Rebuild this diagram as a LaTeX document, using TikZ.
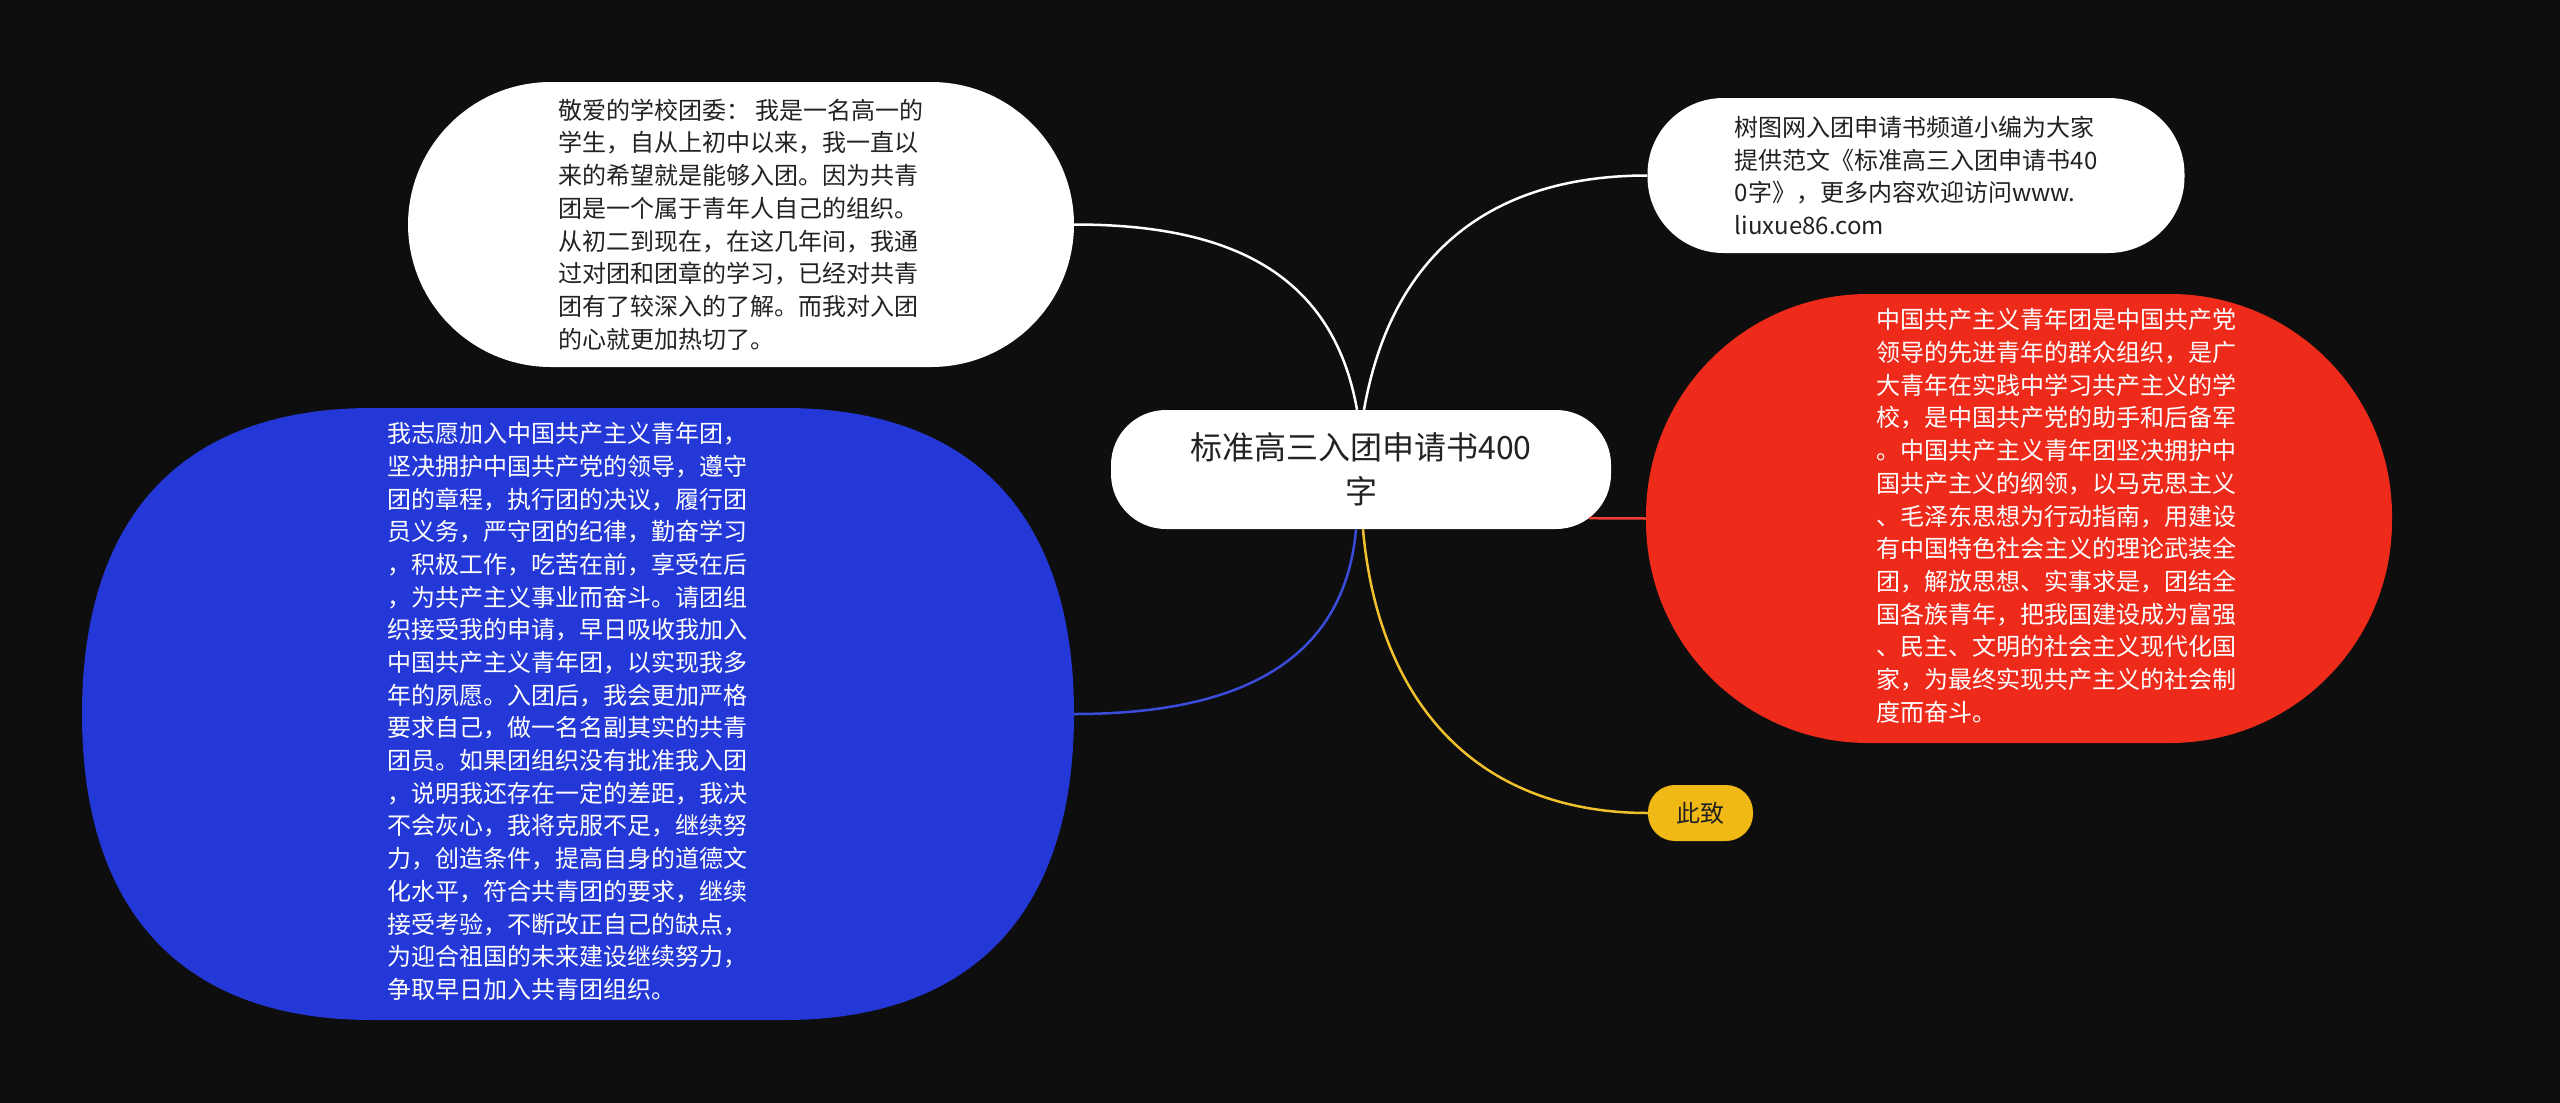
\documentclass[tikz,border=0pt]{standalone}
\usepackage{fontspec}
\setmainfont{Noto Sans CJK SC}
\definecolor{bgdark}{HTML}{0E0E0E}
\definecolor{oathblue}{HTML}{2338D6}
\definecolor{leaguered}{HTML}{EE2A1B}
\definecolor{closeyellow}{HTML}{F0B916}
\definecolor{inkdark}{HTML}{222222}

\begin{document}
\begin{tikzpicture}[x=1pt, y=-1pt,
        b/.style={rectangle, fill=white, text=inkdark, inner sep=0pt,
                  font=\fontsize{24}{32.7}\selectfont},
        conn/.style={line width=2.5pt}]
      \fill[bgdark] (0,0) rectangle (2560,1103);
      \useasboundingbox (0,0) rectangle (2560,1103);
      \fill[oathblue] (372,408) -- (784,408) .. controls (972.5,408) and (1074,515.1) .. (1074,714)
            .. controls (1074,912.9) and (972.5,1020) .. (784,1020) -- (372,1020)
            .. controls (183.5,1020) and (82,912.9) .. (82,714)
            .. controls (82,515.1) and (183.5,408) .. (372,408) -- cycle;
      \node[b, align=center, minimum width=500pt, minimum height=119pt, rounded corners=55pt,
            font=\fontsize{32}{44}\selectfont] (root) at (1361,469.5) {标准高三入团申请书400\\字};
      \node[b, align=left, minimum width=666pt, minimum height=285pt, rounded corners=143pt]
            (intro) at (741,224.5) {敬爱的学校团委： 我是一名高一的\\学生，自从上初中以来，我一直以\\来的希望就是能够入团。因为共青\\团是一个属于青年人自己的组织。\\从初二到现在，在这几年间，我通\\过对团和团章的学习，已经对共青\\团有了较深入的了解。而我对入团\\的心就更加热切了。};
      \node[b, align=left, minimum width=537pt, minimum height=155pt, rounded corners=76pt]
            (source) at (1916,175.5) {树图网入团申请书频道小编为大家\\提供范文《标准高三入团申请书40\\0字》，更多内容欢迎访问www.\\liuxue86.com};
      \node[b, fill=leaguered, text=white, minimum width=746pt, minimum height=449pt, rounded corners=222pt]
            (league) at (2019,518.5) {\begin{tabular}{@{\hspace{74pt}}l@{}}中国共产主义青年团是中国共产党\\领导的先进青年的群众组织，是广\\大青年在实践中学习共产主义的学\\校，是中国共产党的助手和后备军\\。中国共产主义青年团坚决拥护中\\国共产主义的纲领，以马克思主义\\、毛泽东思想为行动指南，用建设\\有中国特色社会主义的理论武装全\\团，解放思想、实事求是，团结全\\国各族青年，把我国建设成为富强\\、民主、文明的社会主义现代化国\\家，为最终实现共产主义的社会制\\度而奋斗。\end{tabular}};
      \node[b, fill=none, text=white, minimum width=992pt, minimum height=612pt]
            (oath) at (578,714) {\begin{tabular}{@{}l@{\hspace{22pt}}}我志愿加入中国共产主义青年团，\\坚决拥护中国共产党的领导，遵守\\团的章程，执行团的决议，履行团\\员义务，严守团的纪律，勤奋学习\\，积极工作，吃苦在前，享受在后\\，为共产主义事业而奋斗。请团组\\织接受我的申请，早日吸收我加入\\中国共产主义青年团，以实现我多\\年的夙愿。入团后，我会更加严格\\要求自己，做一名名副其实的共青\\团员。如果团组织没有批准我入团\\，说明我还存在一定的差距，我决\\不会灰心，我将克服不足，继续努\\力，创造条件，提高自身的道德文\\化水平，符合共青团的要求，继续\\接受考验，不断改正自己的缺点，\\为迎合祖国的未来建设继续努力，\\争取早日加入共青团组织。\end{tabular}};
      \node[b, fill=closeyellow, minimum width=105pt, minimum height=56pt, rounded corners=27pt]
            (closing) at (1700.5,813) {此致};
      \draw[conn, white] ([xshift=-4pt]root.north) to[out=100, in=0, looseness=1.1] (intro.east);
      \draw[conn, white] ([xshift=3pt]root.north) to[out=80, in=180, looseness=1.1] (source.west);
      \draw[conn, leaguered!90!white] ([xshift=-22pt, yshift=11pt]root.south east) -- (league.west);
      \draw[conn, oathblue!90!white] ([xshift=-5pt]root.south) to[out=-95, in=0, looseness=1.1] (oath.east);
      \draw[conn, closeyellow!90!white] ([xshift=2pt]root.south) to[out=-85, in=180, looseness=1.1] (closing.west);
    \end{tikzpicture}
\end{document}
